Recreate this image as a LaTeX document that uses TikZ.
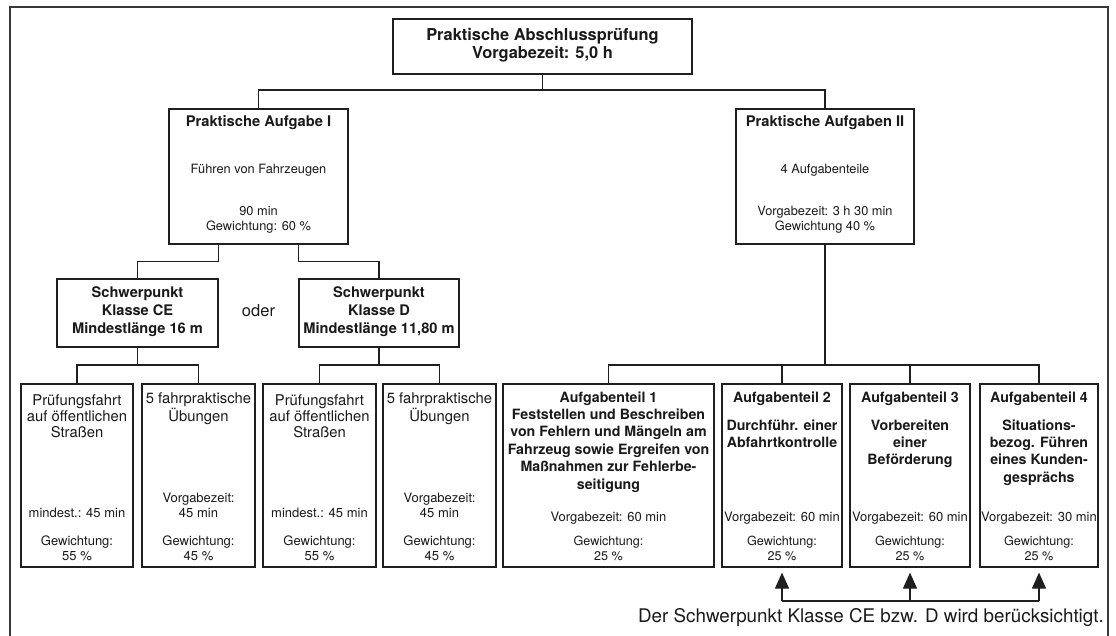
\documentclass[tikz,border=0pt]{standalone}
\usepackage{fontspec}
\setmainfont{TeX Gyre Heros}
\usetikzlibrary{arrows.meta}
\begin{document}
\begin{tikzpicture}[x=1pt,y=-1pt,
  box/.style={draw=black!88, line width=1.2pt, inner sep=0pt},
  ln/.style={draw=black!88, line width=1.2pt},
  tx/.style={anchor=base, inner sep=0pt, align=center, text=black!90},
  hbig/.style={tx, font=\bfseries\fontsize{16.4}{18.3}\selectfont},
  hmid/.style={tx, font=\bfseries\fontsize{14.7}{18}\selectfont},
  hsp/.style={tx, font=\bfseries\fontsize{14.6}{18}\selectfont},
  hat/.style={tx, font=\bfseries\fontsize{14.2}{17.4}\selectfont},
  nsm/.style={tx, font=\fontsize{12.8}{15}\selectfont},
  nbt/.style={tx, font=\fontsize{14.8}{16}\selectfont},
  nlo/.style={tx, font=\fontsize{13}{15}\selectfont},
  nrw/.style={tx, font=\fontsize{12.6}{15}\selectfont},
  arr/.style={ln, -{Triangle[width=14pt,length=16pt]}}
]
\useasboundingbox (0,0) rectangle (1116,635);
% outer frame
\draw[line width=1.5pt, black!78] (10,636) -- (10,7) -- (1108,7) -- (1108,636);

% boxes
\node[box, minimum width=299pt, minimum height=55pt] (top) at (542.5,46.5) {};
\node[box, minimum width=179pt, minimum height=135pt] (AI) at (258.5,176.5) {};
\node[box, minimum width=178pt, minimum height=135pt] (AII) at (825,176.5) {};
\node[box, minimum width=161pt, minimum height=68pt] (CE) at (137.5,313) {};
\node[box, minimum width=160pt, minimum height=68pt] (D) at (379,313) {};
\node[box, minimum width=112pt, minimum height=183pt] (b1) at (77,475.5) {};
\node[box, minimum width=113pt, minimum height=183pt] (b2) at (198.5,475.5) {};
\node[box, minimum width=113pt, minimum height=183pt] (b3) at (319.5,475.5) {};
\node[box, minimum width=113pt, minimum height=183pt] (b4) at (439.5,475.5) {};
\node[box, minimum width=211pt, minimum height=183pt] (A1) at (608.5,475.5) {};
\node[box, minimum width=120pt, minimum height=183pt] (A2) at (782,475.5) {};
\node[box, minimum width=120pt, minimum height=183pt] (A3) at (910,475.5) {};
\node[box, minimum width=118pt, minimum height=183pt] (A4) at (1039,475.5) {};

% texts (a node's base is the baseline of its last line)
\node[hbig] (ttop) at (542.5,58.3) {Praktische Abschlussprüfung\\Vorgabezeit: 5,0 h};

\node[hmid] (tAI1) at (258.5,126.7) {Praktische Aufgabe I};
\node[nsm] (tAI2) at (258.5,173) {Führen von Fahrzeugen};
\node[nsm] (tAI3) at (258.5,230) {90 min\\Gewichtung: 60 \%};

\node[hmid] (tAII1) at (825,126.7) {Praktische Aufgaben II};
\node[nsm] (tAII2) at (825,173) {4 Aufgabenteile};
\node[nsm] (tAII3) at (825,230) {Vorgabezeit: 3 h 30 min\\Gewichtung 40 \%};

\node[hsp] (tCE) at (137.5,333.3) {Schwerpunkt\\Klasse CE\\Mindestlänge 16 m};
\node[hsp] (tD) at (379,333.3) {Schwerpunkt\\Klasse D\\Mindestlänge 11,80 m};
\node[tx, font=\fontsize{16.5}{18}\selectfont] (oder) at (258.5,316.7) {oder};

\node[nbt] (tb1a) at (77,437) {Prüfungsfahrt\\auf öffentlichen\\Straßen};
\node[nlo] (tb1b) at (77,517) {mindest.: 45 min};
\node[nlo] (tb1c) at (77,560) {Gewichtung:\\55 \%};

\node[nbt] (tb2a) at (198.5,421) {5 fahrpraktische\\Übungen};
\node[nlo] (tb2b) at (198.5,517) {Vorgabezeit:\\45 min};
\node[nlo] (tb2c) at (198.5,560) {Gewichtung:\\45 \%};

\node[nbt] (tb3a) at (319.5,437) {Prüfungsfahrt\\auf öffentlichen\\Straßen};
\node[nlo] (tb3b) at (319.5,517) {mindest.: 45 min};
\node[nlo] (tb3c) at (319.5,560) {Gewichtung:\\55 \%};

\node[nbt] (tb4a) at (439.5,421) {5 fahrpraktische\\Übungen};
\node[nlo] (tb4b) at (439.5,517) {Vorgabezeit:\\45 min};
\node[nlo] (tb4c) at (439.5,560) {Gewichtung:\\45 \%};

\node[hat] (tA1a) at (608.5,489) {Aufgabenteil 1\\Feststellen und Beschreiben\\von Fehlern und Mängeln am\\Fahrzeug sowie Ergreifen von\\Maßnahmen zur Fehlerbe-\\seitigung};
\node[nlo] (tA1b) at (608.5,521) {Vorgabezeit: 60 min};
\node[nrw] (tA1c) at (608.5,560) {Gewichtung:\\25 \%};

\node[hat] (tA2a) at (782,402) {Aufgabenteil 2};
\node[hat] (tA2b) at (782,447.4) {Durchführ. einer\\Abfahrtkontrolle};
\node[nlo] (tA2c) at (782,521) {Vorgabezeit: 60 min};
\node[nrw] (tA2d) at (782,560) {Gewichtung:\\25 \%};

\node[hat] (tA3a) at (910,402) {Aufgabenteil 3};
\node[hat] (tA3b) at (910,464.8) {Vorbereiten\\einer\\Beförderung};
\node[nlo] (tA3c) at (910,521) {Vorgabezeit: 60 min};
\node[nrw] (tA3d) at (910,560) {Gewichtung:\\25 \%};

\node[hat] (tA4a) at (1039,402) {Aufgabenteil 4};
\node[hat] (tA4b) at (1039,482.2) {Situations-\\bezog. Führen\\eines Kunden-\\gesprächs};
\node[nlo] (tA4c) at (1039,521) {Vorgabezeit: 30 min};
\node[nrw] (tA4d) at (1039,560) {Gewichtung:\\25 \%};

\node[anchor=base east, inner sep=0pt, text=black!90, font=\fontsize{18.8}{22}\selectfont] (note) at (1104,622.5) {Der Schwerpunkt Klasse CE bzw. D wird berücksichtigt.};

% connectors
\coordinate (j0) at (542.5,90);
\draw[ln] (top.south) -- (j0);
\draw[ln] (j0) -| (AI.north);
\draw[ln] (j0) -| (AII.north);

\draw[ln] (CE.east |- AI.south) -- ++(0,17) -| (CE.north);
\draw[ln] (D.west |- AI.south) -- ++(0,17) -| (D.north);

\coordinate (jCE) at (137.5,365);
\draw[ln] (CE.south) -- (jCE);
\draw[ln] (jCE) -| (b1.north);
\draw[ln] (jCE) -| (b2.north);

\coordinate (jD) at (379,365);
\draw[ln] (D.south) -- (jD);
\draw[ln] (jD) -| (b3.north);
\draw[ln] (jD) -| (b4.north);

\coordinate (jII) at (825,365);
\draw[ln] (AII.south) -- (jII);
\draw[ln] (jII) -| (A1.north);
\draw[ln] (jII) -| (A2.north);
\draw[ln] (jII) -| (A3.north);
\draw[ln] (jII) -| (A4.north);

\coordinate (hb) at (0,601);
\draw[ln] (A2.south |- hb) -- (A4.south |- hb);
\draw[arr] (A2.south |- hb) -- ([yshift=-5pt]A2.south);
\draw[arr] (A3.south |- hb) -- ([yshift=-5pt]A3.south);
\draw[arr] (A4.south |- hb) -- ([yshift=-5pt]A4.south);
\end{tikzpicture}
\end{document}
